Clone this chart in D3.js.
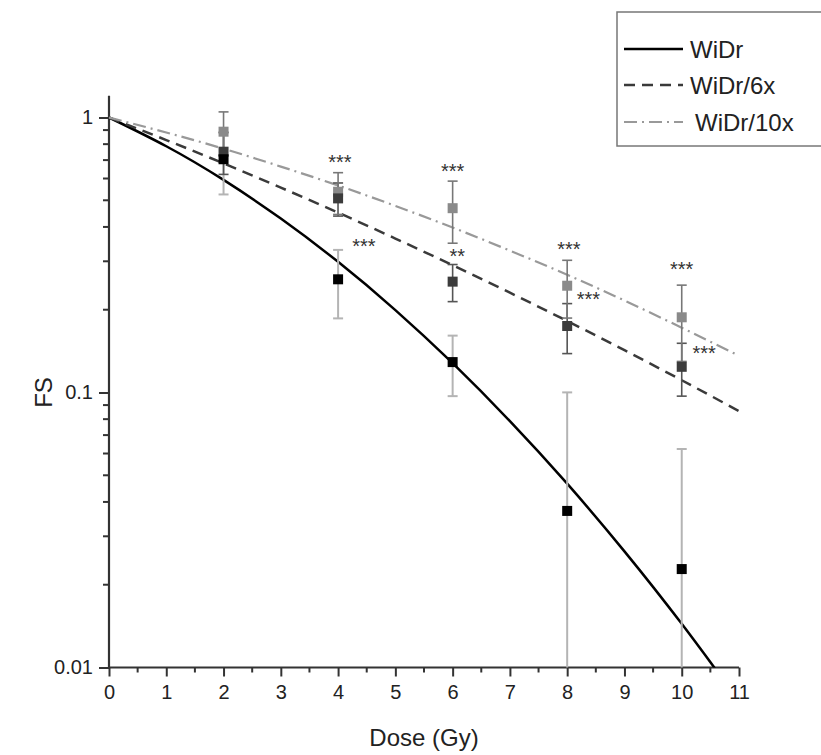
<!DOCTYPE html>
<html>
<head>
<meta charset="utf-8">
<script src="https://cdn.jsdelivr.net/npm/d3@7"></script>
<style>
  html, body { margin: 0; padding: 0; background: #fff; }
  svg { display: block; font-family: "Liberation Sans", Arial, sans-serif; }
</style>
</head>
<body>
<svg id="chart" width="821" height="755"></svg>
<script>
// ---------- data ----------
const doses = [2, 4, 6, 8, 10];
const seriesNames = ["WiDr", "WiDr/6x", "WiDr/10x"];

const widrMean   = [0.705, 0.258, 0.129, 0.0371, 0.0228];
const widrErr    = [0.18, 0.072, 0.032, 0.063, 0.0395];
const widr6Mean  = [0.751, 0.508, 0.253, 0.1745, 0.124];
const widr6Err   = [0.13, 0.07, 0.039, 0.036, 0.027];
const widr10Mean = [0.888, 0.537, 0.468, 0.2445, 0.1877];
const widr10Err  = [0.16, 0.093, 0.119, 0.058, 0.058];

// fitted curves at integer doses
const curveDose   = [0, 1, 2, 3, 4, 5, 6, 7, 8, 9, 10, 11];
const widrCurve   = [1, 0.786, 0.593, 0.429, 0.2986, 0.1994, 0.1278, 0.0787, 0.0466, 0.02644, 0.01441, 0.00754];
const widr6Curve  = [1, 0.828, 0.681, 0.556, 0.451, 0.363, 0.2905, 0.2307, 0.182, 0.1425, 0.1108, 0.0856];
const widr10Curve = [1, 0.882, 0.770, 0.663, 0.566, 0.477, 0.398, 0.328, 0.268, 0.216, 0.172, 0.136];

// significance marks (dose, FS position of the mark, label)
const starDose  = [4.03, 4.45, 6.0, 6.08, 8.03, 8.37, 10.0, 10.39];
const starFS    = [0.718, 0.3535, 0.662, 0.325, 0.3467, 0.228, 0.293, 0.144];
const starLabel = ["***", "***", "***", "**", "***", "***", "***", "***"];

const xTicks = [0, 1, 2, 3, 4, 5, 6, 7, 8, 9, 10, 11];
const xMinorTicks = [0.5, 1.5, 2.5, 3.5, 4.5, 5.5, 6.5, 7.5, 8.5, 9.5, 10.5];
const yTicks = [0.01, 0.1, 1];
const yTickLabels = ["0.01", "0.1", "1"];
const yMinorTicks = [0.02, 0.03, 0.04, 0.05, 0.06, 0.07, 0.08, 0.09,
                     0.2, 0.3, 0.4, 0.5, 0.6, 0.7, 0.8, 0.9];

// ---------- layout ----------
const svg = d3.select("#chart");
const x = d3.scaleLinear().domain([0, 11]).range([109, 739]);
const y = d3.scaleLog().domain([0.01, 1]).range([667.5, 117.5]);
const yTopValue = 1.2;

const styles = [
  { line: "#000", dash: null, width: 2.5, marker: "#000", err: "#b4b4b4", errW: 2 },
  { line: "#3a3a3a", dash: "11,7", width: 2.5, marker: "#3c3c3c", err: "#555", errW: 1.6 },
  { line: "#999", dash: "13,5,2,5", width: 2.2, marker: "#8a8a8a", err: "#777", errW: 1.6 }
];

svg.append("defs").append("clipPath").attr("id", "plotclip")
  .append("rect").attr("x", x(0)).attr("y", 0)
  .attr("width", x(11) - x(0)).attr("height", y(0.01));

// ---------- axes ----------
const axisColor = "#333";
const xAxis = d3.axisBottom(x).tickValues(xTicks).tickFormat(d3.format("d")).tickSize(9).tickPadding(8);
const gx = svg.append("g").attr("transform", `translate(0,${y(0.01)})`).call(xAxis);
gx.select(".domain").remove();
gx.selectAll(".tick line").attr("stroke", axisColor).attr("stroke-width", 2);
gx.selectAll(".tick text").attr("font-size", 20).attr("fill", "#222")
  .attr("font-family", "Liberation Sans, Arial, sans-serif");
svg.append("g").attr("transform", `translate(0,${y(0.01)})`)
  .selectAll("line").data(xMinorTicks).join("line")
  .attr("x1", d => x(d)).attr("x2", d => x(d)).attr("y1", 0).attr("y2", 5)
  .attr("stroke", axisColor).attr("stroke-width", 2);

const yAxis = d3.axisLeft(y).tickValues(yTicks)
  .tickFormat((d, i) => yTickLabels[i]).tickSize(10).tickPadding(6);
const gy = svg.append("g").attr("transform", `translate(${x(0)},0)`).call(yAxis);
gy.select(".domain").remove();
gy.selectAll(".tick line").attr("stroke", axisColor).attr("stroke-width", 2);
gy.selectAll(".tick text").attr("font-size", 20).attr("fill", "#222")
  .attr("font-family", "Liberation Sans, Arial, sans-serif");
svg.append("g").selectAll("line").data(yMinorTicks).join("line")
  .attr("x1", x(0) - 6).attr("x2", x(0)).attr("y1", d => y(d)).attr("y2", d => y(d))
  .attr("stroke", axisColor).attr("stroke-width", 2);

// axis lines
svg.append("line").attr("x1", x(0)).attr("x2", x(11)).attr("y1", y(0.01)).attr("y2", y(0.01))
  .attr("stroke", axisColor).attr("stroke-width", 2.2);
svg.append("line").attr("x1", x(0)).attr("x2", x(0)).attr("y1", y(0.01) + 1).attr("y2", y(yTopValue))
  .attr("stroke", axisColor).attr("stroke-width", 2.2);

// axis titles
svg.append("text").attr("x", (x(0) + x(11)) / 2).attr("y", 746)
  .attr("text-anchor", "middle").attr("font-size", 24).attr("fill", "#222").text("Dose (Gy)");
svg.append("text").attr("transform", `translate(52,${y(0.1)}) rotate(-90)`)
  .attr("text-anchor", "middle").attr("font-size", 24).attr("fill", "#222").text("FS");

// ---------- curves ----------
const curves = [widrCurve, widr6Curve, widr10Curve];
const lineGen = d3.line().x(d => x(d[0])).y(d => y(d[1])).curve(d3.curveNatural);
const curveLayer = svg.append("g").attr("clip-path", "url(#plotclip)");
curves.forEach((c, i) => {
  const pts = curveDose.map((d, j) => [d, c[j]]);
  curveLayer.append("path").attr("d", lineGen(pts)).attr("fill", "none")
    .attr("stroke", styles[i].line).attr("stroke-width", styles[i].width)
    .attr("stroke-dasharray", styles[i].dash);
});

// ---------- error bars & markers ----------
const means = [widrMean, widr6Mean, widr10Mean];
const errs = [widrErr, widr6Err, widr10Err];
const cap = 5;
const ms = 10;
[0, 1, 2].forEach(si => {
  const g = svg.append("g");
  const st = styles[si];
  doses.forEach((d, j) => {
    const m = means[si][j], e = errs[si][j];
    const top = y(m + e);
    const lowV = m - e;
    const bot = lowV > 0.01 ? y(lowV) : y(0.01);
    const cx = x(d);
    g.append("line").attr("x1", cx).attr("x2", cx).attr("y1", top).attr("y2", bot)
      .attr("stroke", st.err).attr("stroke-width", st.errW);
    g.append("line").attr("x1", cx - cap).attr("x2", cx + cap).attr("y1", top).attr("y2", top)
      .attr("stroke", st.err).attr("stroke-width", st.errW);
    if (lowV > 0.01) {
      g.append("line").attr("x1", cx - cap).attr("x2", cx + cap).attr("y1", bot).attr("y2", bot)
        .attr("stroke", st.err).attr("stroke-width", st.errW);
    }
  });
});
// markers drawn on top (10x first, then 6x, then WiDr)
[2, 1, 0].forEach(si => {
  svg.append("g").selectAll("rect").data(doses).join("rect")
    .attr("x", d => x(d) - ms / 2)
    .attr("y", (d, j) => y(means[si][j]) - ms / 2)
    .attr("width", ms).attr("height", ms)
    .attr("fill", styles[si].marker);
});

// ---------- significance marks ----------
svg.append("g").selectAll("text").data(starLabel).join("text")
  .attr("x", (d, i) => x(starDose[i]))
  .attr("y", (d, i) => y(starFS[i]) + 11.5)
  .attr("text-anchor", "middle").attr("font-size", 20).attr("fill", "#333")
  .text(d => d);

// ---------- legend ----------
const legend = svg.append("g");
legend.append("rect").attr("x", 617).attr("y", 12).attr("width", 215).attr("height", 134)
  .attr("fill", "#fff").attr("stroke", "#777").attr("stroke-width", 1.5);
const legendY = [49, 85, 122];
seriesNames.forEach((name, i) => {
  legend.append("line").attr("x1", 624).attr("x2", 683)
    .attr("y1", legendY[i]).attr("y2", legendY[i])
    .attr("stroke", styles[i].line).attr("stroke-width", styles[i].width)
    .attr("stroke-dasharray", styles[i].dash);
  legend.append("text").attr("x", i === 2 ? 695 : 690).attr("y", legendY[i])
    .attr("dominant-baseline", "central").attr("font-size", 24).attr("fill", "#222")
    .text(name);
});
</script>
</body>
</html>
